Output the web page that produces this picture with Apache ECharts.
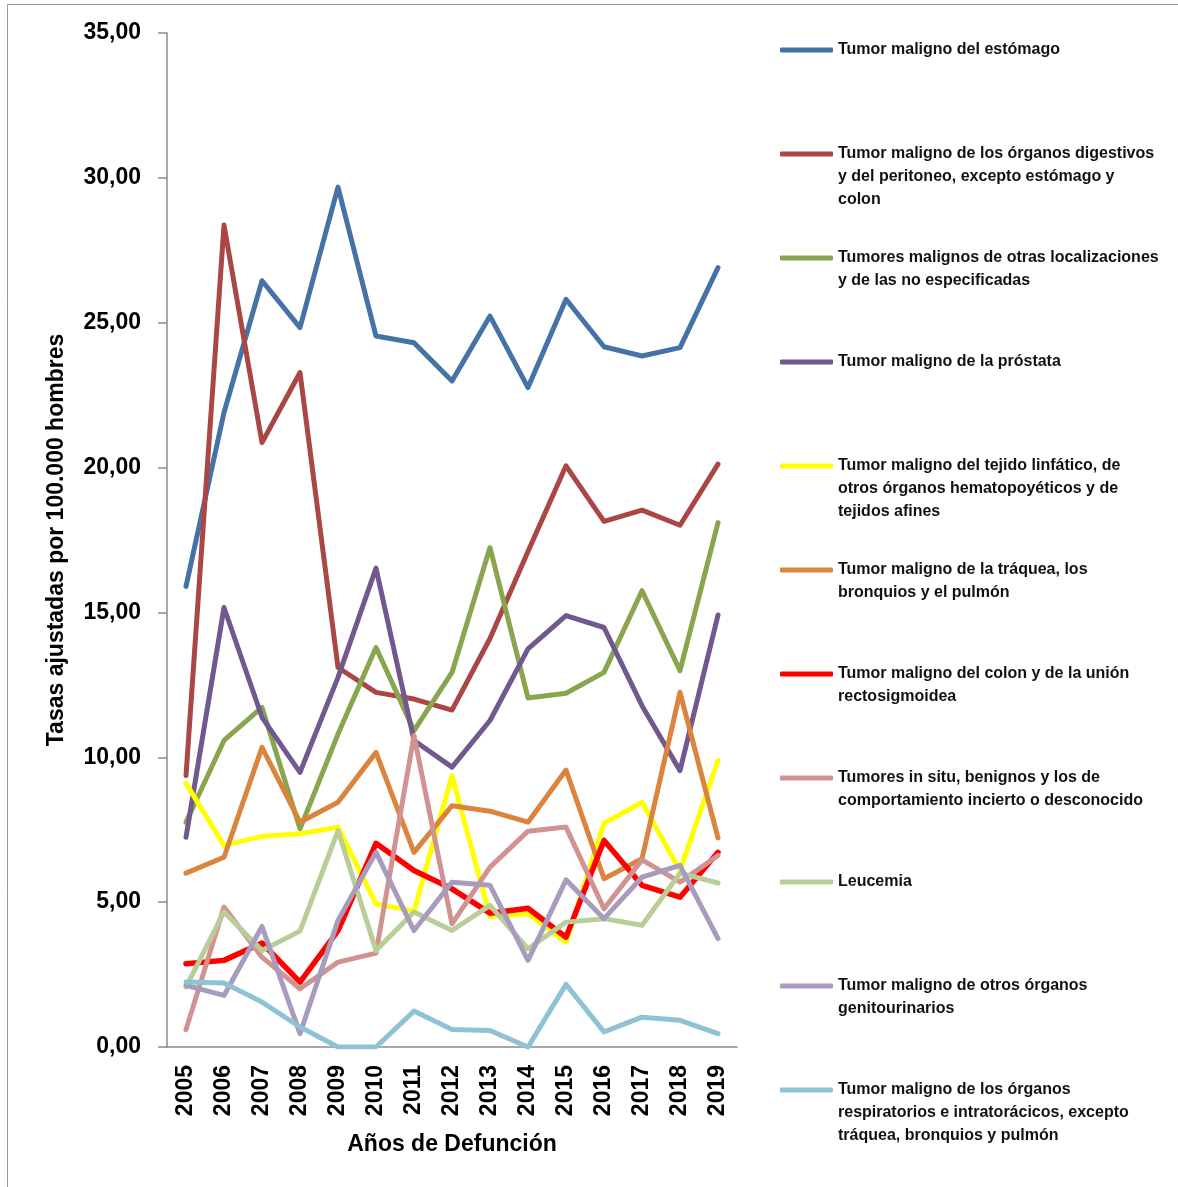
<!DOCTYPE html>
<html>
<head>
<meta charset="utf-8">
<script src="https://cdn.jsdelivr.net/npm/echarts@6/dist/echarts.min.js"></script>
<style>
  html, body { margin: 0; padding: 0; background: #fff; }
  #chart { width: 1178px; height: 1187px; }
</style>
</head>
<body>
<div id="chart"></div>
<script>
const years = ['2005', '2006', '2007', '2008', '2009', '2010', '2011', '2012', '2013', '2014', '2015', '2016', '2017', '2018', '2019'];

const estomago = [15.9, 21.9, 26.45, 24.83, 29.68, 24.54, 24.31, 22.99, 25.23, 22.76, 25.81, 24.17, 23.85, 24.14, 26.9];
const digestivos = [9.37, 28.37, 20.86, 23.28, 13.1, 12.24, 12.01, 11.63, 14.1, 17.1, 20.06, 18.14, 18.53, 18.01, 20.12];
const otrasLocalizaciones = [7.76, 10.58, 11.72, 7.53, 10.8, 13.79, 10.92, 12.93, 17.24, 12.05, 12.21, 12.93, 15.75, 12.99, 18.1];
const prostata = [7.24, 15.17, 11.38, 9.48, 12.76, 16.53, 10.58, 9.66, 11.27, 13.74, 14.89, 14.48, 11.78, 9.54, 14.91];
const linfatico = [9.1, 6.96, 7.27, 7.36, 7.59, 4.94, 4.69, 9.37, 4.5, 4.6, 3.62, 7.72, 8.45, 6.09, 9.89];
const traquea = [6.0, 6.55, 10.34, 7.76, 8.45, 10.17, 6.72, 8.33, 8.14, 7.76, 9.56, 5.81, 6.5, 12.24, 7.22];
const colon = [2.87, 2.99, 3.59, 2.24, 4.02, 7.03, 6.09, 5.46, 4.62, 4.79, 3.79, 7.13, 5.58, 5.17, 6.72];
const inSitu = [0.6, 4.83, 3.1, 2.01, 2.93, 3.24, 10.75, 4.25, 6.21, 7.45, 7.59, 4.77, 6.46, 5.69, 6.61];
const leucemia = [2.07, 4.66, 3.33, 4.0, 7.47, 3.33, 4.66, 4.02, 4.89, 3.39, 4.31, 4.43, 4.2, 6.0, 5.66];
const genitourinarios = [2.13, 1.78, 4.16, 0.46, 4.37, 6.72, 4.02, 5.69, 5.58, 2.99, 5.77, 4.43, 5.86, 6.27, 3.74];
const respiratorios = [2.24, 2.21, 1.55, 0.69, 0, 0, 1.24, 0.6, 0.57, 0, 2.16, 0.52, 1.03, 0.92, 0.46];

// legend text, one entry per line as in the original
const seriesLabels = [
  ['Tumor maligno del estómago'],
  ['Tumor maligno de los órganos digestivos', 'y del peritoneo, excepto estómago y', 'colon'],
  ['Tumores malignos de otras localizaciones', 'y de las no especificadas'],
  ['Tumor maligno de la próstata'],
  ['Tumor maligno del tejido linfático, de', 'otros órganos hematopoyéticos y de', 'tejidos afines'],
  ['Tumor maligno de la tráquea, los', 'bronquios y el pulmón'],
  ['Tumor maligno del colon y de la unión', 'rectosigmoidea'],
  ['Tumores in situ, benignos y los de', 'comportamiento incierto o desconocido'],
  ['Leucemia'],
  ['Tumor maligno de otros órganos', 'genitourinarios'],
  ['Tumor maligno de los órganos', 'respiratorios e intratorácicos, excepto', 'tráquea, bronquios y pulmón'],
];
const seriesData = [estomago, digestivos, otrasLocalizaciones, prostata, linfatico, traquea, colon, inSitu, leucemia, genitourinarios, respiratorios];
const colors = ['#4572A7', '#AA4643', '#89A54E', '#71588F', '#FFFF00', '#DB843D', '#FF0000', '#D19392', '#B9CD96', '#A99BBD', '#8EC3D6'];

const FONT = '"Liberation Sans", Arial, sans-serif';
const LINE_H = 23;

const names = seriesLabels.map((l) => l.join(' '));

const chart = echarts.init(document.getElementById('chart'));

// one legend per entry so the marker sits on the first text line
const legends = seriesLabels.map((lines, i) => ({
  data: [names[i]],
  orient: 'vertical',
  left: 780,
  top: 50 + 104 * i - (2 * lines.length - 1) * LINE_H / 2,
  padding: 0,
  icon: 'roundRect',
  itemWidth: 53,
  itemHeight: 5,
  selectedMode: false,
  formatter: () => new Array(lines.length - 1).fill('').concat(lines).join('\n'),
  textStyle: { fontFamily: FONT, fontWeight: 'bold', fontSize: 16, lineHeight: LINE_H, color: '#111' },
}));

chart.setOption({
  animation: false,
  color: colors,
  graphic: [{
    type: 'rect',
    shape: { x: 7.5, y: 4.5, width: 1300, height: 1300 },
    style: { fill: 'none', stroke: '#999', lineWidth: 1 },
    silent: true,
  }],
  legend: legends,
  grid: { left: 167, right: 441, top: 33, bottom: 140 },
  xAxis: {
    type: 'category',
    data: years,
    boundaryGap: true,
    name: 'Años de Defunción',
    nameLocation: 'middle',
    nameGap: 86,
    nameTextStyle: { fontFamily: FONT, fontWeight: 'bold', fontSize: 23, color: '#000' },
    axisLine: { lineStyle: { color: '#8c8c8c', width: 1.5 } },
    axisTick: { length: 8, lineStyle: { color: '#8c8c8c', width: 1.5 } },
    axisLabel: { rotate: 90, margin: 18, fontFamily: FONT, fontWeight: 'bold', fontSize: 23, color: '#000' },
    splitLine: { show: false },
  },
  yAxis: {
    type: 'value',
    min: 0,
    max: 35,
    interval: 5,
    name: 'Tasas ajustadas por 100.000 hombres',
    nameLocation: 'middle',
    nameGap: 99,
    nameTextStyle: { fontFamily: FONT, fontWeight: 'bold', fontSize: 23, color: '#000' },
    axisLine: { show: true, lineStyle: { color: '#8c8c8c', width: 1.5 } },
    axisTick: { show: true, length: 9, lineStyle: { color: '#8c8c8c', width: 1.5 } },
    axisLabel: {
      margin: 26,
      fontFamily: FONT,
      fontWeight: 'bold',
      fontSize: 23,
      color: '#000',
      formatter: (v) => v.toFixed(2).replace('.', ','),
    },
    splitLine: { show: false },
  },
  series: seriesData.map((data, i) => ({
    name: names[i],
    type: 'line',
    data,
    symbol: 'none',
    lineStyle: { width: i === 6 ? 5.5 : 5, join: 'round', cap: 'round' },
  })),
});
</script>
</body>
</html>
